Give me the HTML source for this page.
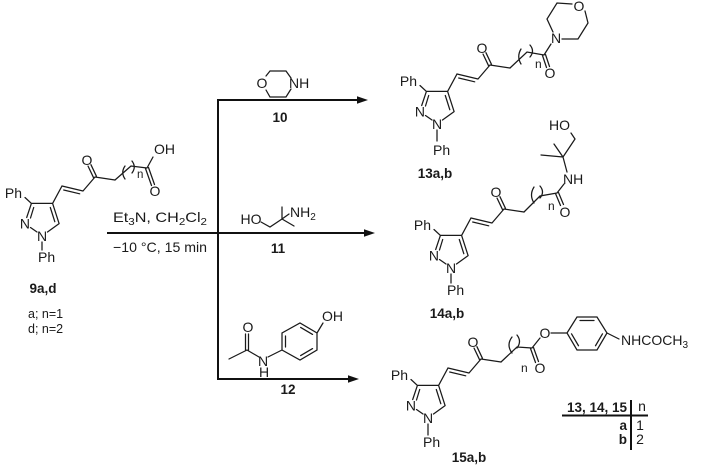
<!DOCTYPE html>
<html><head><meta charset="utf-8"><style>
html,body{margin:0;padding:0;background:#fff;}
svg{display:block;}
text{font-family:"Liberation Sans",Arial,sans-serif;fill:#1a1a1a;}
.b{stroke:#1a1a1a;stroke-width:1.25;fill:none;stroke-linecap:round;}
.a{stroke:#111;stroke-width:2;fill:none;}
</style></head><body>
<svg width="703" height="469" viewBox="0 0 703 469" xmlns="http://www.w3.org/2000/svg">
<defs>
<g id="core">
<path class="b" d="M-10.6,-32.6 L10.6,-32.6 M10.6,-32.6 L17.1,-12.4 M8.3,-28.5 L12.8,-14.3 M17.1,-12.4 L5.5,-4 M-5,-4 L-11.5,-8.5 M-15.3,-18.5 L-10.6,-32.6 M-8.3,-28.5 L-11.5,-18 M-10.6,-32.6 L-17,-38.5 M10.6,-32.6 L20,-50 L41,-45 M21.7,-46 L37.7,-42.2 M41,-45 L53,-59 M51.55,-58.3 L46.05,-69.9 M54.45,-59.7 L48.95,-71.3 M53,-59 L73,-56"/>
<text x="0" y="5" font-size="14" text-anchor="middle">N</text>
<text x="-17.1" y="-7.4" font-size="14" text-anchor="middle">N</text>
<text x="-20" y="-38" font-size="14" text-anchor="end">Ph</text>
<text x="45" y="-71" font-size="14" text-anchor="middle">O</text>
</g>
</defs>

<!-- 9a,d -->
<use href="#core" x="42" y="236"/>
<path class="b" d="M42,242 L42,250 M115,180 L131,166 L147,168 M147,168 L153,157 M145.5,168.5 L151.5,185.5 M148.5,167.5 L154.5,184.5 M125,166 Q120.5,172.5 125,179 M132,161 Q136.5,167 132,173"/>
<text x="38" y="262" font-size="14">Ph</text>
<text x="154" y="154" font-size="14">OH</text>
<text x="155" y="196" font-size="14" text-anchor="middle">O</text>
<text x="137" y="178" font-size="11.5">n</text>
<text x="43" y="293" font-size="13.5" font-weight="bold" text-anchor="middle">9a,d</text>
<text x="28" y="318" font-size="12.5">a; n=1</text>
<text x="28" y="333" font-size="12.5">d; n=2</text>

<!-- arrows -->
<path class="a" d="M218,99 L218,380 M217,100 L360,100 M107,233 L367,233 M217,379 L351,379"/>
<polygon points="368,100 357,96.3 357,103.7" fill="#111"/>
<polygon points="375,233 364,229.3 364,236.7" fill="#111"/>
<polygon points="359,379 348,375.3 348,382.7" fill="#111"/>

<text x="113" y="222" font-size="14" textLength="94" lengthAdjust="spacingAndGlyphs">Et<tspan font-size="10" dy="3">3</tspan><tspan dy="-3">N, CH</tspan><tspan font-size="10" dy="3">2</tspan><tspan dy="-3">Cl</tspan><tspan font-size="10" dy="3">2</tspan></text>
<text x="113" y="252" font-size="14" textLength="94" lengthAdjust="spacingAndGlyphs">−10 °C, 15 min</text>

<!-- reagent 10 morpholine -->
<path class="b" d="M270,71 L286,71 L291,78 M291,89 L286,97 L270,97 L266,90 M266,76 L270,71"/>
<text x="262" y="88" font-size="14" text-anchor="middle">O</text>
<text x="289" y="88" font-size="14">NH</text>
<text x="280" y="122" font-size="13.5" font-weight="bold" text-anchor="middle">10</text>

<!-- reagent 11 -->
<path class="b" d="M261,222 L270,227 L282,219 M282,219 L282,207 M282,219 L294,226 M282,219 L289,214"/>
<text x="251" y="224" font-size="14" text-anchor="middle">HO</text>
<text x="290" y="217" font-size="14">NH<tspan font-size="10" dy="3">2</tspan></text>
<text x="278" y="253" font-size="13.5" font-weight="bold" text-anchor="middle">11</text>

<!-- reagent 12 -->
<path class="b" d="M229,359 L247,350 M245.5,350 L245.5,334 M248.5,350 L248.5,334 M247,350 L259,357 M268,357 L282,350 M282,350 L282,333 L300,323 L317,333 L317,350 L300,360 Z M285.5,336 L285.5,347 M300.65,327.4 L312.55,334.4 M312.55,348.6 L300.65,355.6 M317,333 L323,323"/>
<text x="248" y="332" font-size="14" text-anchor="middle">O</text>
<text x="263" y="366" font-size="14" text-anchor="middle">N</text>
<text x="264" y="377" font-size="14" text-anchor="middle">H</text>
<text x="322" y="321" font-size="14">OH</text>
<text x="288" y="394" font-size="13.5" font-weight="bold" text-anchor="middle">12</text>

<!-- product 13 -->
<use href="#core" x="437" y="124"/>
<path class="b" d="M437,130 L437,141 M510,68 L527,52 L544,55 M544,55 L551,44 M542.5,55.5 L546.5,67.5 M545.5,54.5 L549.5,66.5 M553,32 L547,19 L557,3 L572,4 M585,11 L588,23 L578,39 L562,39 M521,49 Q516.5,56.5 521,64 M530,45 Q535,51 530,57"/>
<text x="433" y="155" font-size="14">Ph</text>
<text x="556" y="43" font-size="14" text-anchor="middle">N</text>
<text x="579" y="11" font-size="14" text-anchor="middle">O</text>
<text x="550" y="78" font-size="14" text-anchor="middle">O</text>
<text x="535" y="68" font-size="12">n</text>
<text x="435" y="178" font-size="13.5" font-weight="bold" text-anchor="middle">13a,b</text>

<!-- product 14 -->
<use href="#core" x="451" y="268"/>
<path class="b" d="M451,274 L451,283 M524,212 L540,196 L557,193 M555.5,193.5 L560.5,205.5 M558.5,192.5 L563.5,204.5 M557,193 L564,184 M567,172 L563,157 M563,157 L541,155 M563,157 L554,144 M563,157 L575,139 L571,133 M534,187 Q529,195 534,203 M540,186 Q545,192 540,198"/>
<text x="447" y="295" font-size="14">Ph</text>
<text x="565" y="217" font-size="14" text-anchor="middle">O</text>
<text x="563" y="184" font-size="14">NH</text>
<text x="570" y="130" font-size="14" text-anchor="end">HO</text>
<text x="548" y="210" font-size="12">n</text>
<text x="447" y="318" font-size="13.5" font-weight="bold" text-anchor="middle">14a,b</text>

<!-- product 15 -->
<use href="#core" x="428" y="418"/>
<path class="b" d="M428,424 L428,435 M501,362 L517,347 L532,348 M530.5,348.5 L535.5,362.5 M533.5,347.5 L538.5,361.5 M532,348 L540,338 M551,333 L567,333 M567,333 L577,317 L597,317 L607,333 L597,350 L577,350 Z M580,320.5 L594,320.5 M602.5,333.85 L595.5,345.75 M578.5,345.75 L571.5,333.85 M607,333 L619,339 M512,337 Q506,345 512,353 M517,335 Q522,341.5 517,348"/>
<text x="423" y="447" font-size="14">Ph</text>
<text x="540" y="373" font-size="14" text-anchor="middle">O</text>
<text x="545" y="338" font-size="14" text-anchor="middle">O</text>
<text x="621" y="345" font-size="14">NHCOCH<tspan font-size="10" dy="3">3</tspan></text>
<text x="521" y="372" font-size="12">n</text>
<text x="469" y="462" font-size="13.5" font-weight="bold" text-anchor="middle">15a,b</text>

<!-- table -->
<text x="627" y="412" font-size="13.5" font-weight="bold" text-anchor="end">13, 14, 15</text>
<text x="642" y="411" font-size="14" text-anchor="middle">n</text>
<path class="a" d="M562,415.5 L648,415.5 M631,400 L631,450"/>
<text x="627" y="430" font-size="13.5" font-weight="bold" text-anchor="end">a</text>
<text x="640" y="430" font-size="14" text-anchor="middle">1</text>
<text x="627" y="444" font-size="13.5" font-weight="bold" text-anchor="end">b</text>
<text x="640" y="444" font-size="14" text-anchor="middle">2</text>
</svg>
</body></html>
